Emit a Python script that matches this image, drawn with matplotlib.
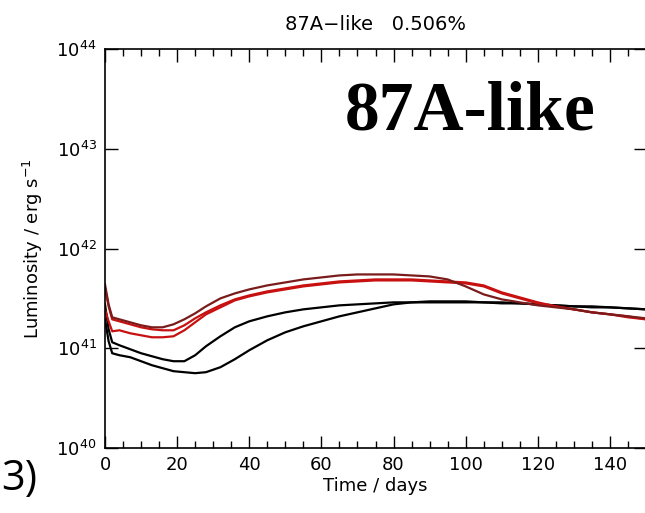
import numpy as np
import matplotlib.pyplot as plt
from matplotlib.ticker import MultipleLocator, LogLocator, NullLocator

# Light curves, log10 of luminosity (erg/s) on a shared time grid (days)
t_days = [0, 1, 2, 4, 7, 10, 13, 16, 19, 22, 25, 28, 32, 36, 40, 45, 50, 55, 60,
          65, 70, 75, 80, 85, 90, 95, 100, 105, 110, 115, 120, 125, 130, 135,
          140, 145, 150]

logL_darkred = [41.64, 41.44, 41.31, 41.29, 41.26, 41.23, 41.21, 41.21, 41.24,
                41.29, 41.35, 41.42, 41.50, 41.55, 41.59, 41.63, 41.66, 41.69,
                41.71, 41.73, 41.74, 41.74, 41.74, 41.73, 41.72, 41.69, 41.62,
                41.54, 41.49, 41.46, 41.43, 41.41, 41.39, 41.36, 41.34, 41.32,
                41.30]

logL_red1 = [41.60, 41.42, 41.29, 41.27, 41.24, 41.21, 41.19, 41.18, 41.18,
             41.23, 41.30, 41.36, 41.43, 41.49, 41.53, 41.57, 41.60, 41.63,
             41.65, 41.67, 41.68, 41.69, 41.69, 41.69, 41.68, 41.67, 41.66,
             41.63, 41.56, 41.51, 41.46, 41.42, 41.39, 41.36, 41.34, 41.32,
             41.29]

logL_red2 = [41.39, 41.27, 41.17, 41.18, 41.15, 41.13, 41.11, 41.11, 41.12,
             41.18, 41.26, 41.34, 41.41, 41.48, 41.52, 41.56, 41.59, 41.62,
             41.64, 41.66, 41.67, 41.68, 41.68, 41.68, 41.67, 41.66, 41.65,
             41.62, 41.55, 41.50, 41.45, 41.42, 41.39, 41.36, 41.34, 41.31,
             41.29]

logL_black1 = [41.44, 41.19, 41.06, 41.03, 40.99, 40.95, 40.92, 40.89, 40.87,
               40.87, 40.93, 41.02, 41.12, 41.21, 41.27, 41.32, 41.36, 41.39,
               41.41, 41.43, 41.44, 41.45, 41.46, 41.46, 41.46, 41.46, 41.46,
               41.46, 41.45, 41.45, 41.44, 41.43, 41.42, 41.41, 41.41, 41.40,
               41.39]

logL_black2 = [41.29, 41.07, 40.95, 40.93, 40.91, 40.87, 40.83, 40.80, 40.77,
               40.76, 40.75, 40.76, 40.81, 40.89, 40.98, 41.08, 41.16, 41.22,
               41.27, 41.32, 41.36, 41.40, 41.44, 41.46, 41.47, 41.47, 41.47,
               41.46, 41.46, 41.45, 41.44, 41.43, 41.42, 41.42, 41.41, 41.40,
               41.39]

fig = plt.figure(figsize=(6.45, 5.13), dpi=100)
ax = fig.add_axes([105 / 645, 65 / 513, 541 / 645, 399 / 513])

t = np.array(t_days)
curves = [
    (logL_black2, 'black'),
    (logL_black1, 'black'),
    (logL_red2, '#c81010'),
    (logL_red1, '#c81010'),
    (logL_darkred, '#7a1c1c'),
]
for logL, col in curves:
    ax.plot(t, 10 ** np.array(logL), color=col, lw=1.6,
            solid_joinstyle='round')

ax.set_yscale('log')
ax.set_xlim(0, 150)
ax.set_ylim(1e40, 1e44)

ax.xaxis.set_major_locator(MultipleLocator(20))
ax.xaxis.set_minor_locator(MultipleLocator(5))
ax.yaxis.set_major_locator(LogLocator(base=10, numticks=10))
ax.yaxis.set_minor_locator(NullLocator())
ax.tick_params(which='both', direction='in', top=True, right=True,
               labelsize=13, width=1.0, colors='black')
ax.tick_params(which='major', length=9, pad=6)
ax.tick_params(which='minor', length=5)
for s in ax.spines.values():
    s.set_linewidth(1.2)

ax.set_xlabel('Time / days', fontsize=13, labelpad=2)
ax.set_ylabel('Luminosity / erg s$^{-1}$', fontsize=13, labelpad=8)
ax.set_title('87A\u2212like   0.506%', fontsize=14, pad=14)

fig.text(345 / 645, 1 - 130 / 513, '87A-like', family='Liberation Serif',
         fontweight='bold', fontsize=50, ha='left', va='baseline')
fig.text(1 / 645, 1 - 490 / 513, '3)', family='Open Sans', fontsize=30,
         ha='left', va='baseline')

fig.savefig('out.png', dpi=100)
